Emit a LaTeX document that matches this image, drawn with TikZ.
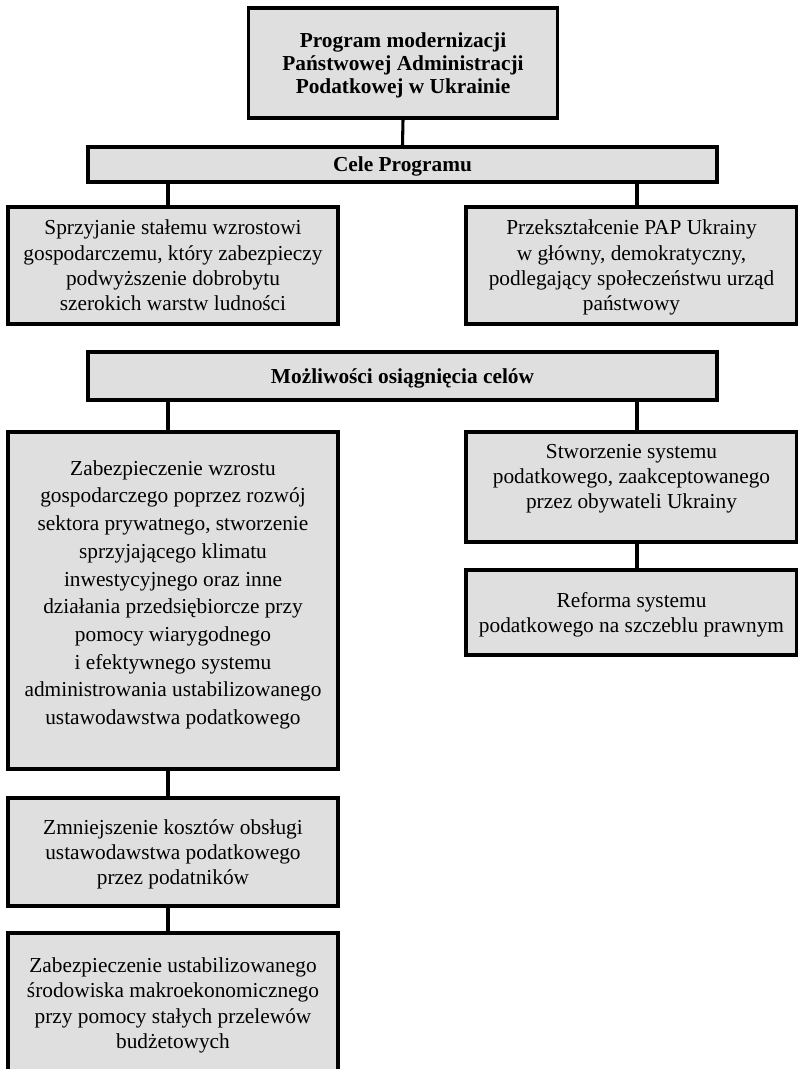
\documentclass[tikz,border=0pt]{standalone}
\usepackage{fontspec}
\setmainfont{Liberation Serif}
\begin{document}
\begin{tikzpicture}[x=0.75pt,y=-0.75pt,
  box/.style={draw=black, line width=2.3pt, fill=boxgray, align=center, inner sep=0pt,
    text depth=-1pt, font=\fontsize{16}{19}\selectfont},
  boldbox/.style={box, font=\fontsize{16}{17.5}\selectfont\bfseries},
  conn/.style={line width=2.3pt}]
\definecolor{boxgray}{HTML}{DFDFDF}
\clip (0,0) rectangle (798,1069);
\useasboundingbox (0,0) rectangle (798,1069);
% helper coordinates for connector columns
\coordinate (cl) at (168,0);
\coordinate (cr) at (637,0);
% nodes (centers in px, sizes in px*0.75pt)
\node[boldbox, text depth=-4pt, minimum width=231.75pt, minimum height=82.5pt] (top) at (403,63)
  {Program modernizacji\\Państwowej Administracji\\Podatkowej w Ukrainie};
\node[boldbox, minimum width=471.75pt, minimum height=26.25pt] (cele) at (402.5,164.5)
  {Cele Programu};
\node[box, minimum width=247.5pt, minimum height=87.75pt] (g1) at (173,265.5)
  {Sprzyjanie stałemu wzrostowi\\gospodarczemu, który zabezpieczy\\podwyższenie dobrobytu\\szerokich warstw ludności};
\node[box, minimum width=248.25pt, minimum height=87.75pt] (g2) at (631.5,265.5)
  {Przekształcenie PAP Ukrainy\\w główny, demokratyczny,\\podlegający społeczeństwu urząd\\państwowy};
\node[boldbox, minimum width=471.75pt, minimum height=36pt] (mozl) at (402.5,376)
  {Możliwości osiągnięcia celów};
\node[box, text depth=12pt, minimum width=247.5pt, minimum height=252.75pt, font=\fontsize{16}{20.8}\selectfont] (L1) at (173,600.5)
  {Zabezpieczenie wzrostu\\gospodarczego poprzez rozwój\\sektora prywatnego, stworzenie\\sprzyjającego klimatu\\inwestycyjnego oraz inne\\działania przedsiębiorcze przy\\pomocy wiarygodnego\\i efektywnego systemu\\administrowania ustabilizowanego\\ustawodawstwa podatkowego};
\node[box, text depth=16pt, minimum width=248.25pt, minimum height=82.5pt] (R1) at (631.5,487)
  {Stworzenie systemu\\podatkowego, zaakceptowanego\\przez obywateli Ukrainy};
\node[box, minimum width=248.25pt, minimum height=63.75pt] (R2) at (631.5,612.5)
  {Reforma systemu\\podatkowego na szczeblu prawnym};
\node[box, minimum width=247.5pt, minimum height=81pt] (L2) at (173,852)
  {Zmniejszenie kosztów obsługi\\ustawodawstwa podatkowego\\przez podatników};
\node[box, minimum width=247.5pt, minimum height=105pt, font=\fontsize{16}{19.2}\selectfont] (L3) at (173,1003)
  {Zabezpieczenie ustabilizowanego\\środowiska makroekonomicznego\\przy pomocy stałych przelewów\\budżetowych};
% connectors
\draw[conn] (top.south) -- (cele.north);
\draw[conn] (cele.south -| cl) -- (g1.north -| cl);
\draw[conn] (cele.south -| cr) -- (g2.north -| cr);
\draw[conn] (mozl.south -| cl) -- (L1.north -| cl);
\draw[conn] (mozl.south -| cr) -- (R1.north -| cr);
\draw[conn] (R1.south -| cr) -- (R2.north -| cr);
\draw[conn] (L1.south -| cl) -- (L2.north -| cl);
\draw[conn] (L2.south -| cl) -- (L3.north -| cl);
\end{tikzpicture}
\end{document}
